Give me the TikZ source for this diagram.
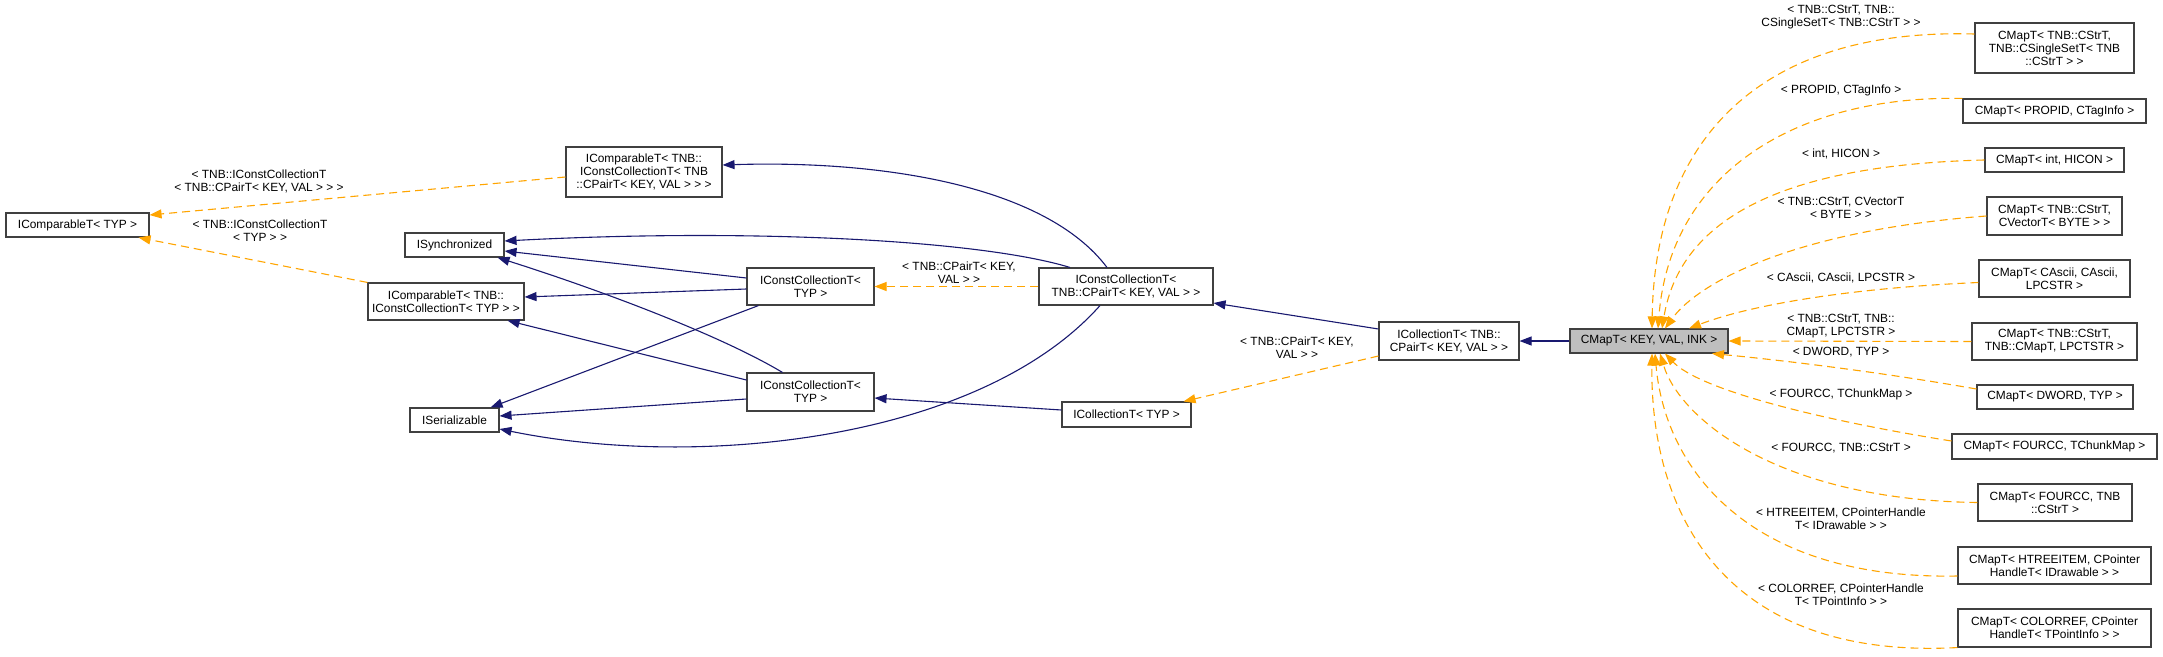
\documentclass[tikz,border=0pt]{standalone}
\usepackage{fontspec}
\setmainfont{Liberation Sans}
\usepackage{xcolor}
\usetikzlibrary{arrows.meta}
\definecolor{edgeblue}{HTML}{191970}
\definecolor{edgeorange}{HTML}{FFA500}
\definecolor{frame}{HTML}{404040}
\definecolor{focus}{HTML}{BFBFBF}
\newcommand{\dotfont}{\fontsize{11.9}{13}\selectfont}
\tikzset{
  cls/.style={draw=frame, line width=1.1pt, fill=white, inner sep=0pt, align=center, font=\dotfont},
  sz/.style 2 args={minimum width=#1pt, minimum height=#2pt},
  tmpl/.style={align=center, font=\dotfont, inner sep=0pt},
  inh/.style={color=edgeblue, line width=1.1pt, -{Triangle[length=12pt,width=9pt]}},
  tpl/.style={color=edgeorange, line width=1.1pt, dash pattern=on 8pt off 5pt, -{Triangle[length=12pt,width=9pt]}}
}

\begin{document}
\begin{tikzpicture}[x=1pt, y=-1pt]
  \fill[white] (0,0) rectangle (2163,656);
  \useasboundingbox (0,0) rectangle (2163,656);

  % base classes
  \node[cls, sz={143}{24}] (cmpTyp) at (77.5,225) {IComparableT< TYP >};
  \node[cls, sz={156}{50}] (cmpPair) at (644,172) {IComparableT< TNB::\\IConstCollectionT< TNB\\::CPairT< KEY, VAL > > >};
  \node[cls, sz={99}{24}] (sync) at (454.5,245) {ISynchronized};
  \node[cls, sz={156}{37}] (cmpColl) at (446,301.5) {IComparableT< TNB::\\IConstCollectionT< TYP > >};
  \node[cls, sz={89}{24}] (serial) at (454.5,420) {ISerializable};
  \node[cls, sz={127}{37}] (constA) at (810.5,286.5) {IConstCollectionT<\\TYP >};
  \node[cls, sz={127}{38}] (constB) at (810.5,392) {IConstCollectionT<\\TYP >};
  \node[cls, sz={174}{37}] (constPair) at (1126,286.5) {IConstCollectionT<\\TNB::CPairT< KEY, VAL > >};
  \node[cls, sz={129}{25}] (collTyp) at (1126.5,414.5) {ICollectionT< TYP >};
  \node[cls, sz={140}{38}] (collPair) at (1449,341) {ICollectionT< TNB::\\CPairT< KEY, VAL > >};
  \node[cls, sz={158}{24}, fill=focus] (map) at (1649,341) {CMapT< KEY, VAL, INK >};

  % specialisations
  \node[cls, sz={159}{50}] (mSet) at (2054.5,48) {CMapT< TNB::CStrT,\\TNB::CSingleSetT< TNB\\::CStrT > >};
  \node[cls, sz={183}{24}] (mProp) at (2054.5,111) {CMapT< PROPID, CTagInfo >};
  \node[cls, sz={139}{24}] (mIcon) at (2054.5,160) {CMapT< int, HICON >};
  \node[cls, sz={135}{38}] (mVec) at (2054.5,216) {CMapT< TNB::CStrT,\\CVectorT< BYTE > >};
  \node[cls, sz={151}{37}] (mAscii) at (2054.5,278.5) {CMapT< CAscii, CAscii,\\LPCSTR >};
  \node[cls, sz={165}{37}] (mStrMap) at (2054.5,341.5) {CMapT< TNB::CStrT,\\TNB::CMapT, LPCTSTR >};
  \node[cls, sz={156}{24}] (mDword) at (2055,397) {CMapT< DWORD, TYP >};
  \node[cls, sz={205}{25}] (mChunk) at (2054.5,446.5) {CMapT< FOURCC, TChunkMap >};
  \node[cls, sz={154}{37}] (mFour) at (2055,502.5) {CMapT< FOURCC, TNB\\::CStrT >};
  \node[cls, sz={193}{37}] (mTree) at (2054.5,565.5) {CMapT< HTREEITEM, CPointer\\HandleT< IDrawable > >};
  \node[cls, sz={193}{38}] (mColor) at (2054.5,628) {CMapT< COLORREF, CPointer\\HandleT< TPointInfo > >};

  % template arguments
  \node[tmpl] (lCmpPair) at (259,181.5) {< TNB::IConstCollectionT\\< TNB::CPairT< KEY, VAL > > >};
  \node[tmpl] (lCmpColl) at (260,230.5) {< TNB::IConstCollectionT\\< TYP > >};
  \node[tmpl] (lConst) at (959,272.5) {< TNB::CPairT< KEY,\\VAL > >};
  \node[tmpl] (lColl) at (1297,348) {< TNB::CPairT< KEY,\\VAL > >};
  \node[tmpl] (lSet) at (1841,17.5) {< TNB::CStrT, TNB::\\CSingleSetT< TNB::CStrT > >};
  \node[tmpl] (lProp) at (1841,90) {< PROPID, CTagInfo >};
  \node[tmpl] (lIcon) at (1841,154) {< int, HICON >};
  \node[tmpl] (lVec) at (1841,208) {< TNB::CStrT, CVectorT\\< BYTE > >};
  \node[tmpl] (lAscii) at (1841,278) {< CAscii, CAscii, LPCSTR >};
  \node[tmpl] (lStrMap) at (1841,326.5) {< TNB::CStrT, TNB::\\CMapT, LPCTSTR >};
  \node[tmpl] (lDword) at (1841,352) {< DWORD, TYP >};
  \node[tmpl] (lChunk) at (1841,394) {< FOURCC, TChunkMap >};
  \node[tmpl] (lFour) at (1841,448) {< FOURCC, TNB::CStrT >};
  \node[tmpl] (lTree) at (1841,519) {< HTREEITEM, CPointerHandle\\T< IDrawable > >};
  \node[tmpl] (lColor) at (1841,595) {< COLORREF, CPointerHandle\\T< TPointInfo > >};

  % inheritance
  \draw[inh] ([xshift=-19pt]constPair.north) .. controls (1045,185) and (880,160) .. ([yshift=7pt]cmpPair.east);
  \draw[inh] ([xshift=-56pt]constPair.north) .. controls (980,240) and (750,228) .. ([yshift=4pt]sync.east);
  \draw[inh] ([yshift=8.5pt]constA.west) -- ([yshift=-6pt]sync.east);
  \draw[inh] ([xshift=-28pt]constB.north) .. controls (720,335) and (600,290) .. ([xshift=-7pt]sync.south east);
  \draw[inh] ([yshift=-2.5pt]constA.west) -- ([yshift=4.5pt]cmpColl.east);
  \draw[inh] ([yshift=12pt]constB.west) -- ([xshift=-17pt]cmpColl.south east);
  \draw[inh] ([xshift=-52pt]constA.south) -- ([xshift=-9pt]serial.north east);
  \draw[inh] ([yshift=-7pt]constB.west) -- ([yshift=4pt]serial.east);
  \draw[inh] ([xshift=-26pt]constPair.south) .. controls (980,440) and (700,470) .. ([yshift=-9pt]serial.east);
  \draw[inh] ([yshift=4.5pt]collTyp.west) -- ([yshift=-6pt]constB.east);
  \draw[inh] ([yshift=12pt]collPair.west) -- ([yshift=-16.5pt]constPair.east);
  \draw[inh] (map.west) -- (collPair.east);

  % template instances
  \draw[tpl] ([yshift=-5pt]cmpPair.west) -- ([yshift=10pt]cmpTyp.east);
  \draw[tpl] (cmpColl.north west) -- ([xshift=-11pt]cmpTyp.south east);
  \draw[tpl] (constPair.west) -- (constA.east);
  \draw[tpl] ([yshift=-15pt]collPair.west) -- ([xshift=-8pt]collTyp.north east);
  \draw[tpl] ([yshift=14pt]mSet.west) .. controls (1770,28) and (1655,130) .. ([xshift=3pt]map.north);
  \draw[tpl] (mProp.north west) .. controls (1800,95) and (1670,170) .. ([xshift=9pt]map.north);
  \draw[tpl] (mIcon.west) .. controls (1780,165) and (1680,220) .. ([xshift=13pt]map.north);
  \draw[tpl] (mVec.west) .. controls (1800,230) and (1700,280) .. ([xshift=16pt]map.north);
  \draw[tpl] ([yshift=-4pt]mAscii.west) .. controls (1850,288) and (1750,305) .. ([xshift=40pt]map.north);
  \draw[tpl] (mStrMap.west) -- (map.east);
  \draw[tpl] ([yshift=8pt]mDword.west) .. controls (1880,372) and (1780,360) .. ([xshift=63pt]map.south);
  \draw[tpl] ([yshift=5.5pt]mChunk.west) .. controls (1820,420) and (1700,390) .. ([xshift=16pt]map.south);
  \draw[tpl] (mFour.west) .. controls (1780,500) and (1680,420) .. ([xshift=11pt]map.south);
  \draw[tpl] ([yshift=-10.5pt]mTree.west) .. controls (1750,580) and (1665,470) .. ([xshift=6pt]map.south);
  \draw[tpl] (mColor.south west) .. controls (1730,660) and (1650,520) .. ([xshift=3pt]map.south);
\end{tikzpicture}
\end{document}
